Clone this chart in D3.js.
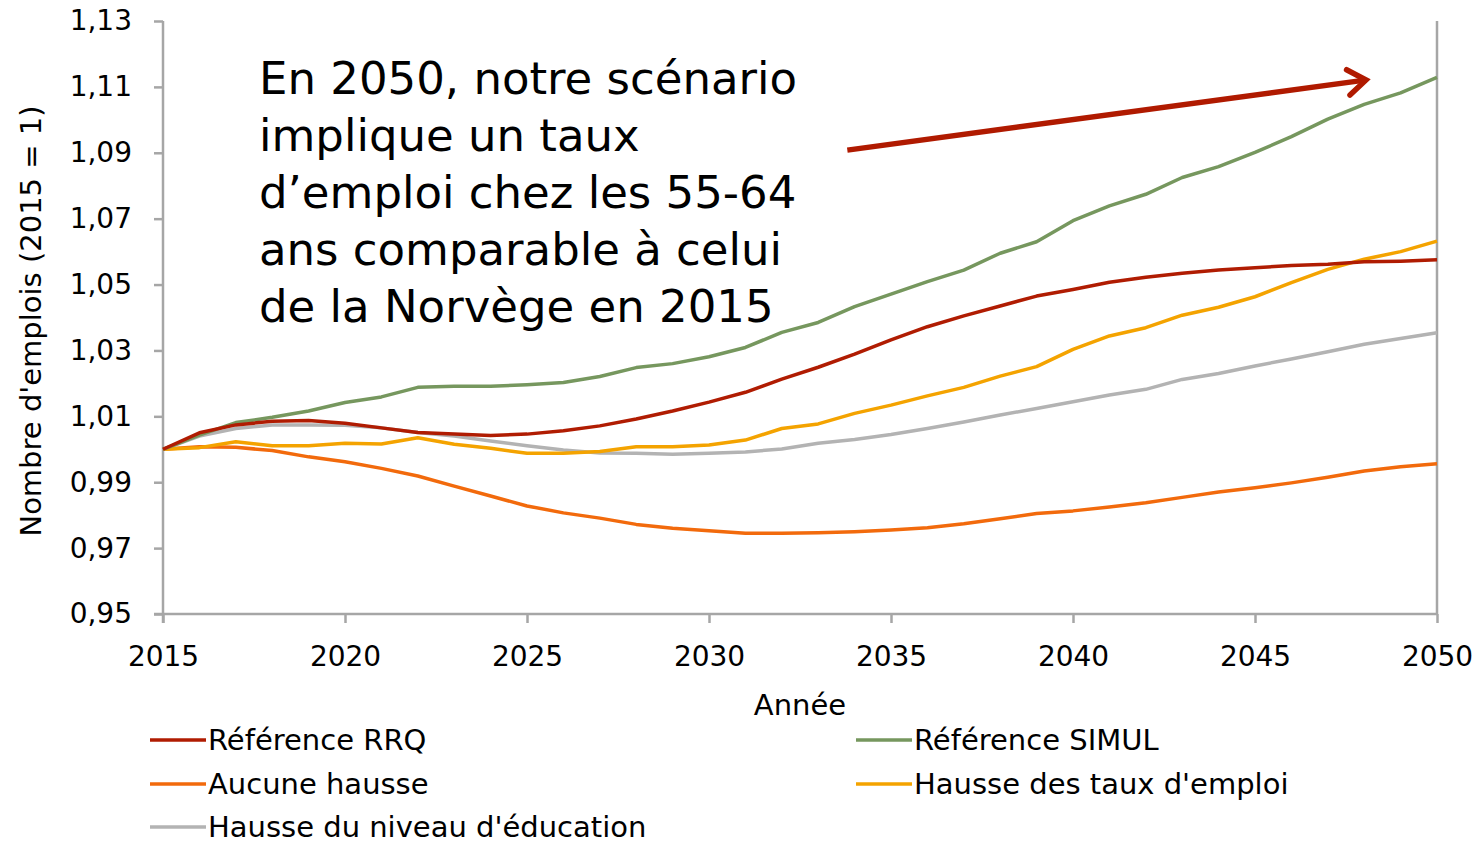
<!DOCTYPE html>
<html lang="fr">
<head>
<meta charset="UTF-8">
<title>Nombre d'emplois</title>
<style>
  body { margin: 0; background: #fff; }
  text { font-family: "DejaVu Sans", sans-serif; fill: #000; }
</style>
</head>
<body>
<script src="https://cdn.jsdelivr.net/npm/d3@7/dist/d3.min.js"></script>
<script>
// data
var years = d3.range(2015, 2051);
var refRRQ = [1.0000,1.0050,1.0074,1.0085,1.0087,1.0079,1.0065,1.0051,1.0046,1.0042,1.0046,1.0056,1.0071,1.0092,1.0116,1.0143,1.0173,1.0213,1.0249,1.0289,1.0332,1.0372,1.0405,1.0435,1.0465,1.0485,1.0507,1.0522,1.0534,1.0544,1.0551,1.0558,1.0562,1.0569,1.0571,1.0575];
var refSIMUL = [1.0000,1.0043,1.0081,1.0097,1.0116,1.0142,1.0159,1.0188,1.0191,1.0191,1.0196,1.0203,1.0221,1.0248,1.0260,1.0281,1.0309,1.0355,1.0385,1.0433,1.0471,1.0509,1.0544,1.0595,1.0630,1.0694,1.0739,1.0774,1.0825,1.0858,1.0901,1.0949,1.1002,1.1047,1.1082,1.1129];
var aucune = [1.0000,1.0008,1.0006,0.9996,0.9977,0.9962,0.9942,0.9919,0.9888,0.9858,0.9828,0.9807,0.9791,0.9772,0.9760,0.9753,0.9745,0.9745,0.9747,0.9750,0.9755,0.9762,0.9774,0.9789,0.9805,0.9813,0.9825,0.9838,0.9854,0.9870,0.9883,0.9898,0.9915,0.9934,0.9947,0.9956];
var hausseTaux = [1.0000,1.0005,1.0023,1.0011,1.0011,1.0018,1.0016,1.0035,1.0015,1.0003,0.9988,0.9988,0.9993,1.0008,1.0008,1.0013,1.0028,1.0063,1.0077,1.0109,1.0134,1.0162,1.0188,1.0222,1.0251,1.0303,1.0344,1.0369,1.0407,1.0431,1.0463,1.0506,1.0546,1.0577,1.0600,1.0632];
var hausseEduc = [1.0000,1.0040,1.0063,1.0074,1.0074,1.0073,1.0065,1.0051,1.0040,1.0025,1.0011,0.9998,0.9989,0.9988,0.9985,0.9988,0.9992,1.0001,1.0018,1.0030,1.0045,1.0063,1.0083,1.0104,1.0124,1.0144,1.0165,1.0182,1.0212,1.0230,1.0253,1.0274,1.0296,1.0319,1.0336,1.0354];

var seriesNames = ["Référence RRQ", "Référence SIMUL", "Aucune hausse", "Hausse des taux d'emploi", "Hausse du niveau d'éducation"];
var seriesValues = [refRRQ, refSIMUL, aucune, hausseTaux, hausseEduc];
var seriesColors = ["#B01C02", "#76975E", "#F26A0C", "#F4A300", "#B3B3B3"];

var xTicks = [2015, 2020, 2025, 2030, 2035, 2040, 2045, 2050];
var yTicks = [0.95, 0.97, 0.99, 1.01, 1.03, 1.05, 1.07, 1.09, 1.11, 1.13];

var noteLines = ["En 2050, notre scénario", "implique un taux", "d\u2019emploi chez les 55-64", "ans comparable à celui", "de la Norvège en 2015"];
var arrowFrom = [2033.8, 1.0908], arrowTo = [2048.05, 1.1121];

var width = 1476, height = 844;
var margin = {left: 163, right: 39, top: 21, bottom: 230};

var svg = d3.select("body").append("svg")
    .attr("width", width).attr("height", height);

var x = d3.scaleLinear().domain([2015, 2050]).range([margin.left, width - margin.right]);
var y = d3.scaleLinear().domain([0.95, 1.13]).range([height - margin.bottom, margin.top]);

var axisColor = "#A6A6A6";

// y axis
var yAxis = svg.append("g")
    .attr("transform", "translate(" + x(2015) + ",0)")
    .call(d3.axisLeft(y).tickValues(yTicks).tickSize(9).tickPadding(22)
        .tickFormat(function(d){ return d3.format(".2f")(d).replace(".", ","); }));
yAxis.selectAll("text").style("font-size", "28px");

// x axis
var xAxis = svg.append("g")
    .attr("transform", "translate(0," + y(0.95) + ")")
    .call(d3.axisBottom(x).tickValues(xTicks).tickSize(9).tickPadding(23).tickFormat(d3.format("d")));
xAxis.selectAll("text").style("font-size", "28px");

svg.selectAll(".tick line").attr("stroke", axisColor).attr("stroke-width", 2.5);
svg.selectAll(".domain").remove();

// axis lines drawn plain (no outer caps)
svg.append("line").attr("x1", x(2015)).attr("x2", x(2015)).attr("y1", y(1.13)).attr("y2", y(0.95) + 9)
    .attr("stroke", axisColor).attr("stroke-width", 2.5);
svg.append("line").attr("x1", x(2015) - 9).attr("x2", x(2050)).attr("y1", y(0.95)).attr("y2", y(0.95))
    .attr("stroke", axisColor).attr("stroke-width", 2.5);
svg.append("line").attr("x1", x(2050)).attr("x2", x(2050)).attr("y1", y(1.13)).attr("y2", y(0.95))
    .attr("stroke", axisColor).attr("stroke-width", 2.5);

// axis titles
svg.append("text")
    .attr("transform", "translate(41,321) rotate(-90)")
    .attr("text-anchor", "middle")
    .style("font-size", "29px")
    .text("Nombre d'emplois (2015 = 1)");

svg.append("text")
    .attr("x", 800).attr("y", 715)
    .attr("text-anchor", "middle")
    .style("font-size", "29px")
    .text("Année");

// series lines
var line = d3.line()
    .x(function(d, i){ return x(years[i]); })
    .y(function(d){ return y(d); });

var drawOrder = [2, 4, 3, 1, 0];
drawOrder.forEach(function(k){
    svg.append("path")
        .datum(seriesValues[k])
        .attr("fill", "none")
        .attr("stroke", seriesColors[k])
        .attr("stroke-width", 3.5)
        .attr("stroke-linejoin", "round")
        .attr("d", line);
});

// annotation
var note = svg.append("text").style("font-size", "45px");
noteLines.forEach(function(t, i){
    note.append("tspan").attr("x", 259).attr("y", 94 + i * 57).text(t);
});

// arrow
var ax0 = x(arrowFrom[0]), ay0 = y(arrowFrom[1]), ax1 = x(arrowTo[0]), ay1 = y(arrowTo[1]);
var ang = Math.atan2(ay1 - ay0, ax1 - ax0);
var headLen = 22, headAng = 0.62;
svg.append("line")
    .attr("x1", ax0).attr("y1", ay0).attr("x2", ax1 - 3 * Math.cos(ang)).attr("y2", ay1 - 3 * Math.sin(ang))
    .attr("stroke", "#B01A00").attr("stroke-width", 5.5);
svg.append("path")
    .attr("d", "M" + (ax1 - headLen * Math.cos(ang - headAng)) + "," + (ay1 - headLen * Math.sin(ang - headAng)) +
        "L" + ax1 + "," + ay1 +
        "L" + (ax1 - headLen * Math.cos(ang + headAng)) + "," + (ay1 - headLen * Math.sin(ang + headAng)))
    .attr("fill", "none").attr("stroke", "#B01A00").attr("stroke-width", 5.5)
    .attr("stroke-linecap", "round").attr("stroke-linejoin", "miter");

// legend
var legendPos = [[150, 740], [856, 740], [150, 784], [856, 784], [150, 827]];
seriesNames.forEach(function(name, k){
    var g = svg.append("g").attr("transform", "translate(" + legendPos[k][0] + "," + legendPos[k][1] + ")");
    g.append("line").attr("x1", 0).attr("x2", 56).attr("y1", 0).attr("y2", 0)
        .attr("stroke", seriesColors[k]).attr("stroke-width", 3.5);
    g.append("text").attr("x", 58).attr("y", 10).style("font-size", "29px").text(name);
});
</script>
</body>
</html>
